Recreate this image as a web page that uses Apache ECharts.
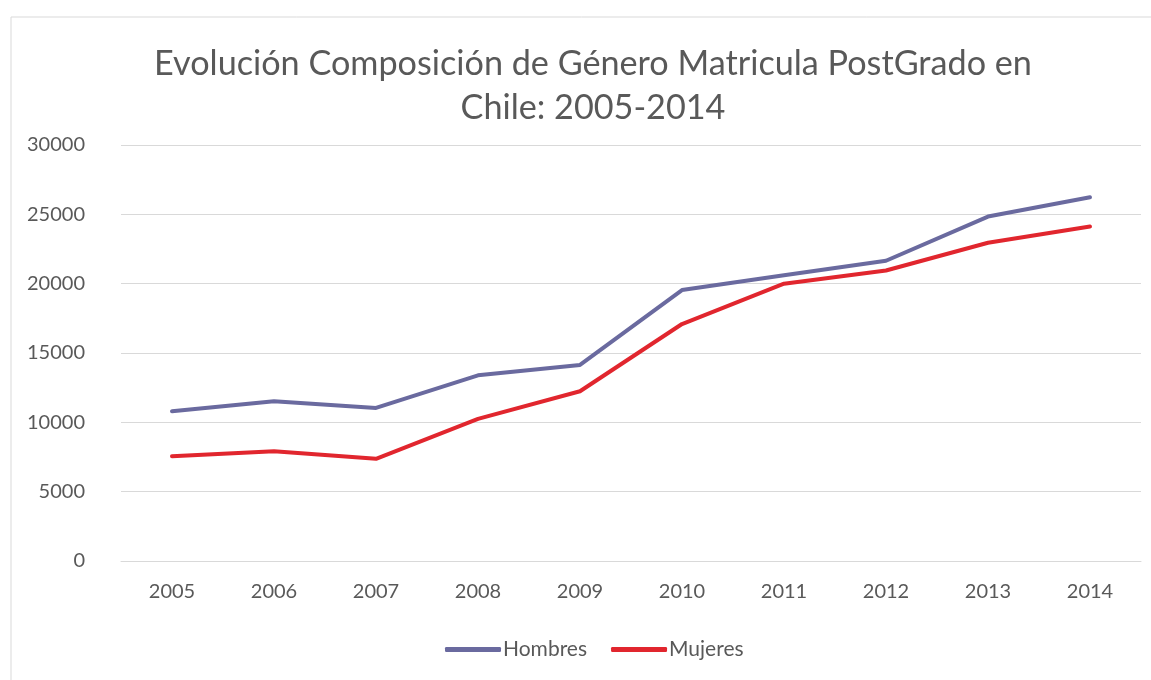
<!DOCTYPE html>
<html>
<head>
<meta charset="utf-8">
<script src="https://cdn.jsdelivr.net/npm/echarts@6/dist/echarts.min.js"></script>
<style>
  html, body { margin: 0; padding: 0; background: #fff; }
  #chart { width: 1151px; height: 680px; }
</style>
</head>
<body>
<div id="chart"></div>
<script>
const years = ['2005', '2006', '2007', '2008', '2009', '2010', '2011', '2012', '2013', '2014']
const hombres = [10800, 11520, 11040, 13390, 14140, 19540, 20600, 21650, 24840, 26230]
const mujeres = [7560, 7920, 7370, 10250, 12240, 17090, 20000, 20950, 22950, 24120]

const textColor = '#595959'
const font = 'Lato'

const myChart = echarts.init(document.getElementById('chart'), null, { renderer: 'canvas' })

const option = {
  backgroundColor: '#fff',
  animation: false,
  title: {
    text: 'Evolución Composición de Género Matricula PostGrado en\nChile: 2005-2014',
    left: 588,
    top: 37,
    textAlign: 'center',
    textStyle: {
      color: textColor,
      fontFamily: font,
      fontWeight: 'normal',
      fontSize: 34.2,
      lineHeight: 44
    }
  },
  graphic: [
    {
      type: 'rect',
      shape: { x: 11, y: 17, width: 1200, height: 700 },
      style: { fill: 'none', stroke: '#d9d9d9', lineWidth: 1 },
      silent: true
    }
  ],
  legend: {
    top: 634,
    left: 440,
    itemWidth: 56,
    itemHeight: 5,
    itemGap: 24,
    icon: 'roundRect',
    textStyle: { color: textColor, fontFamily: font, fontSize: 21, padding: [0, 0, 0, -3] },
    data: ['Hombres', 'Mujeres']
  },
  grid: {
    left: 121,
    right: 10,
    top: 145,
    bottom: 119
  },
  xAxis: {
    type: 'category',
    data: years,
    boundaryGap: true,
    axisLine: { lineStyle: { color: '#d9d9d9' } },
    axisTick: { show: false },
    axisLabel: { color: textColor, fontFamily: font, fontSize: 20, margin: 21 }
  },
  yAxis: {
    type: 'value',
    min: 0,
    max: 30000,
    interval: 5000,
    axisLine: { show: false },
    axisTick: { show: false },
    axisLabel: {
      color: textColor,
      fontFamily: font,
      fontSize: 20,
      margin: 36,
      formatter: (v) => String(v)
    },
    splitLine: { lineStyle: { color: '#d9d9d9', width: 1 } }
  },
  series: [
    {
      name: 'Hombres',
      type: 'line',
      data: hombres,
      symbol: 'none',
      color: '#6a6a9f',
      lineStyle: { width: 4, cap: 'round', join: 'round' }
    },
    {
      name: 'Mujeres',
      type: 'line',
      data: mujeres,
      symbol: 'none',
      color: '#e1262e',
      lineStyle: { width: 4, cap: 'round', join: 'round' }
    }
  ]
}

myChart.setOption(option)
</script>
</body>
</html>
